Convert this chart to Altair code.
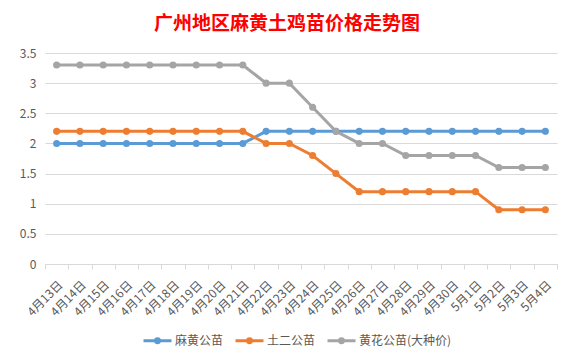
import altair as alt
import pandas as pd

dates = ["4月13日", "4月14日", "4月15日", "4月16日", "4月17日", "4月18日", "4月19日",
         "4月20日", "4月21日", "4月22日", "4月23日", "4月24日", "4月25日", "4月26日",
         "4月27日", "4月28日", "4月29日", "4月30日", "5月1日", "5月2日", "5月3日", "5月4日"]
series_names = ["麻黄公苗", "土二公苗", "黄花公苗(大种价)"]
mahuang = [2.0, 2.0, 2.0, 2.0, 2.0, 2.0, 2.0, 2.0, 2.0, 2.2, 2.2, 2.2, 2.2, 2.2,
           2.2, 2.2, 2.2, 2.2, 2.2, 2.2, 2.2, 2.2]
tuer = [2.2, 2.2, 2.2, 2.2, 2.2, 2.2, 2.2, 2.2, 2.2, 2.0, 2.0, 1.8, 1.5, 1.2,
        1.2, 1.2, 1.2, 1.2, 1.2, 0.9, 0.9, 0.9]
huanghua = [3.3, 3.3, 3.3, 3.3, 3.3, 3.3, 3.3, 3.3, 3.3, 3.0, 3.0, 2.6, 2.2, 2.0,
            2.0, 1.8, 1.8, 1.8, 1.8, 1.6, 1.6, 1.6]
colors = ["#5B9BD5", "#ED7D31", "#A5A5A5"]

rows = []
for name, vals in zip(series_names, [mahuang, tuer, huanghua]):
    for d, v in zip(dates, vals):
        rows.append({"date": d, "series": name, "price": v})
df = pd.DataFrame(rows)

font = "Noto Sans CJK SC"
x = alt.X("date:N", sort=dates, title=None,
          axis=alt.Axis(labelAngle=-45, labelFontSize=12, labelColor="#595959",
                        labelFont=font, domainColor="#d9d9d9", tickColor="#d9d9d9",
                        tickSize=5, tickBand="extent", labelPadding=10, grid=False))
y = alt.Y("price:Q", title=None,
          scale=alt.Scale(domain=[0, 3.5], nice=False),
          axis=alt.Axis(values=[0, 0.5, 1, 1.5, 2, 2.5, 3, 3.5], format="~g",
                        labelFontSize=12, labelColor="#595959", labelFont=font,
                        domain=False, ticks=False, gridColor="#d9d9d9",
                        labelPadding=9))
color = alt.Color("series:N", sort=series_names,
                  scale=alt.Scale(domain=series_names, range=colors),
                  legend=alt.Legend(title=None, orient="none", direction="horizontal",
                                    legendX=97, legendY=272,
                                    symbolType="M-1,0L1,0M-0.14,0A0.14,0.14 0 1,0 0.14,0A0.14,0.14 0 1,0 -0.14,0",
                                    symbolSize=784, symbolStrokeWidth=3,
                                    labelFontSize=12, labelColor="#595959", labelFont=font,
                                    labelOffset=2, columnPadding=5))

base = alt.Chart(df).encode(x=x, y=y, color=color)
lines = base.mark_line(strokeWidth=3)
points = base.mark_point(filled=True, size=50, opacity=1, shape="circle")

chart = alt.layer(lines, points).properties(
    width=512, height=211,
    autosize=alt.AutoSizeParams(type="none"),
    padding={"left": 37, "top": 45, "right": 10, "bottom": 92},
    background="white",
    title=alt.TitleParams("广州地区麻黄土鸡苗价格走势图", font=font, fontSize=19,
                          fontWeight="bold", color="#FF0000", anchor="middle",
                          dx=-14, offset=13),
).configure_view(stroke=None)

chart.save("out.html", embed_options={"renderer": "svg", "actions": False})
